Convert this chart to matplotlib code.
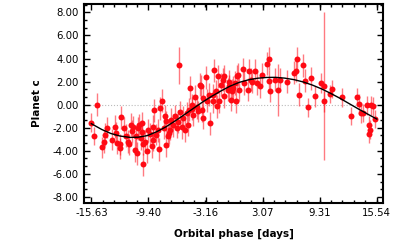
import matplotlib
matplotlib.use('Agg')
import matplotlib.pyplot as plt
from matplotlib.ticker import AutoMinorLocator

# phase-folded RV data for planet c
phase = [-15.70, -15.38, -15.00, -14.50, -14.30, -14.10, -13.90, -13.40, -13.10, -12.90,
         -12.80, -12.55, -12.45, -12.40, -12.10, -11.90, -11.60, -11.50, -11.30, -11.20,
         -11.10, -10.90, -10.70, -10.60, -10.55, -10.45, -10.20, -10.10, -10.05, -10.00,
         -9.95, -9.75, -9.60, -9.45, -9.27, -9.00, -8.90, -8.85, -8.76, -8.60,
         -8.40, -8.20, -8.10, -7.90, -7.75, -7.60, -7.50, -7.45, -7.30, -7.10,
         -7.00, -6.94, -6.70, -6.50, -6.30, -6.20, -6.10, -5.95, -5.75, -5.60,
         -5.40, -5.20, -5.10, -5.00, -4.85, -4.65, -4.60, -4.50, -4.30, -4.05,
         -4.00, -3.80, -3.65, -3.55, -3.45, -3.40, -3.10, -3.05, -2.80, -2.62,
         -2.37, -2.30, -2.20, -2.00, -1.87, -1.84, -1.65, -1.50, -1.30, -1.20,
         -1.10, -0.73, -0.60, -0.56, -0.37, -0.30, -0.19, 0.10, 0.20, 0.25,
         0.36, 0.47, 0.88, 1.08, 1.45, 1.62, 1.80, 1.90, 2.27, 2.45,
         2.83, 3.00, 3.56, 3.74, 3.80, 3.92, 4.46, 4.80, 5.00, 5.73,
         6.46, 6.75, 6.82, 7.00, 7.44, 7.73, 8.00, 8.40, 8.75, 9.47,
         9.77, 9.80, 10.40, 10.64, 11.73, 12.67, 13.40, 13.55, 13.77, 14.00,
         14.50, 14.67, 14.74, 14.85, 14.90, 15.10, 15.36]
rv = [-1.55, -2.70, 0.00, -3.70, -3.20, -2.60, -2.00, -3.05, -1.90, -2.50,
      -3.30, -3.45, -3.80, -1.10, -2.00, -2.70, -3.20, -3.45, -1.75, -2.30,
      -1.90, -3.95, -2.75, -4.20, -2.05, -1.75, -2.90, -1.60, -2.40, -5.15,
      -3.40, -3.20, -4.05, -2.20, -2.55, -3.60, -1.90, -3.05, -0.50, -2.60,
      -2.20, -3.85, -0.30, 0.35, -2.00, -1.00, -1.45, -3.50, -2.70, -2.45,
      -2.20, -1.30, -1.80, -1.00, -2.00, -1.50, 3.40, -0.65, -1.95, -1.15,
      -2.20, -0.75, -1.75, -0.44, 1.45, -0.35, 0.00, -0.87, 0.68, -0.20,
      -0.58, 1.74, 1.60, -0.50, 0.57, -1.13, 2.37, 0.35, 0.87, -1.60,
      0.29, 0.87, 2.98, 1.16, -0.15, 2.46, 0.29, 1.74, 2.17, 2.46,
      0.72, 1.30, 1.60, 2.00, 0.43, 1.22, 1.45, 1.88, 0.29, 2.46,
      2.60, 1.30, 3.08, 1.88, 1.30, 2.96, 2.17, 2.00, 2.96, 1.88,
      1.60, 2.60, 3.53, 2.03, 4.00, 1.22, 2.17, 1.30, 2.17, 1.97,
      2.75, 2.96, 4.00, 0.87, 3.42, 2.09, -0.23, 2.30, 0.72, 1.88,
      1.60, 0.29, 0.92, 1.36, 0.63, -0.96, 0.66, 0.05, -0.73, -0.73,
      -0.06, -2.55, -1.80, -2.17, -0.06, -0.15, -1.22]
err = [0.8, 0.8, 1.0, 0.9, 1.0, 1.0, 0.9, 0.9, 1.0, 1.0,
       1.0, 0.9, 0.9, 1.0, 0.9, 1.0, 1.0, 0.9, 1.0, 1.0,
       0.9, 1.0, 1.0, 1.0, 1.0, 0.9, 1.0, 1.0, 0.9, 1.0,
       1.0, 1.0, 1.0, 1.0, 1.0, 1.0, 1.0, 1.0, 1.0, 0.9,
       1.0, 1.0, 1.0, 1.0, 1.0, 1.0, 0.9, 1.0, 1.0, 1.0,
       0.9, 1.0, 1.0, 1.0, 0.9, 1.0, 1.6, 1.0, 1.0, 1.0,
       1.0, 1.0, 1.0, 1.0, 1.0, 1.0, 0.9, 1.0, 1.0, 1.0,
       0.9, 1.0, 1.0, 1.0, 1.0, 1.0, 1.0, 1.0, 1.0, 1.0,
       1.0, 0.9, 1.0, 1.0, 1.0, 1.0, 1.0, 1.0, 1.0, 1.0,
       1.0, 1.0, 1.0, 1.0, 1.0, 1.0, 1.0, 1.0, 1.0, 1.0,
       1.0, 1.0, 1.0, 1.0, 1.0, 1.0, 1.0, 1.0, 1.0, 1.0,
       1.0, 1.0, 1.0, 1.0, 1.0, 1.0, 1.0, 2.25, 1.0, 1.0,
       1.0, 1.0, 1.0, 1.0, 1.0, 1.0, 0.8, 1.0, 0.9, 0.9,
       6.4, 0.9, 0.8, 0.8, 0.8, 0.8, 0.8, 0.9, 0.9, 0.8,
       0.8, 0.8, 0.8, 0.8, 0.8, 0.8, 0.8]

# model curve
model_phase = [-15.63, -14.5, -13.5, -12.5, -11.4, -10.5, -9.5, -8.5, -7.5, -6.5,
               -5.5, -4.5, -3.5, -2.5, -1.5, -0.5, 0.5, 1.5, 2.5, 3.5,
               4.5, 5.5, 6.5, 7.5, 8.5, 9.5, 10.5, 11.5, 12.5, 13.5,
               14.5, 15.54]
model_rv = [-1.65, -2.15, -2.50, -2.72, -2.84, -2.82, -2.68, -2.35, -1.93, -1.42,
            -0.88, -0.33, 0.22, 0.72, 1.18, 1.60, 1.93, 2.15, 2.29, 2.36,
            2.37, 2.30, 2.17, 1.97, 1.70, 1.37, 0.98, 0.56, 0.10, -0.36,
            -0.80, -1.25]

xticks = [-15.63, -9.40, -3.16, 3.07, 9.31, 15.54]
yticks = [-8, -6, -4, -2, 0, 2, 4, 6, 8]

fig = plt.figure(figsize=(4.15, 2.43), dpi=100)
ax = fig.add_axes([0.202, 0.165, 0.721, 0.819])

ax.axhline(0, color='#bbbbbb', ls=':', lw=0.8, zorder=1)
ax.errorbar(phase, rv, yerr=err, fmt='o', color='#ff0a14', ms=4.3, mew=0,
            ecolor=(1.0, 0.05, 0.1, 0.55), elinewidth=1.0, capsize=0, zorder=2)
ax.plot(model_phase, model_rv, color='black', lw=1.0, zorder=3)

ax.set_xlim(-16.45, 16.22)
ax.set_ylim(-8.52, 8.74)
ax.set_xticks(xticks)
ax.set_xticklabels(['%.2f' % t for t in xticks])
ax.set_yticks(yticks)
ax.set_yticklabels(['%.2f' % t for t in yticks])
ax.xaxis.set_minor_locator(AutoMinorLocator(5))
ax.yaxis.set_minor_locator(AutoMinorLocator(3))
ax.tick_params(which='both', direction='in', top=True, right=True, labelsize=7.3, width=1.0)
ax.tick_params(which='major', length=4)
ax.tick_params(which='minor', length=2)
for s in ax.spines.values():
    s.set_linewidth(1.5)

ax.set_xlabel('Orbital phase [days]', fontsize=7.5, fontweight='bold', labelpad=8)
ax.set_ylabel('Planet c', fontsize=7.5, fontweight='bold', labelpad=8)

fig.savefig('out.png', dpi=100)
